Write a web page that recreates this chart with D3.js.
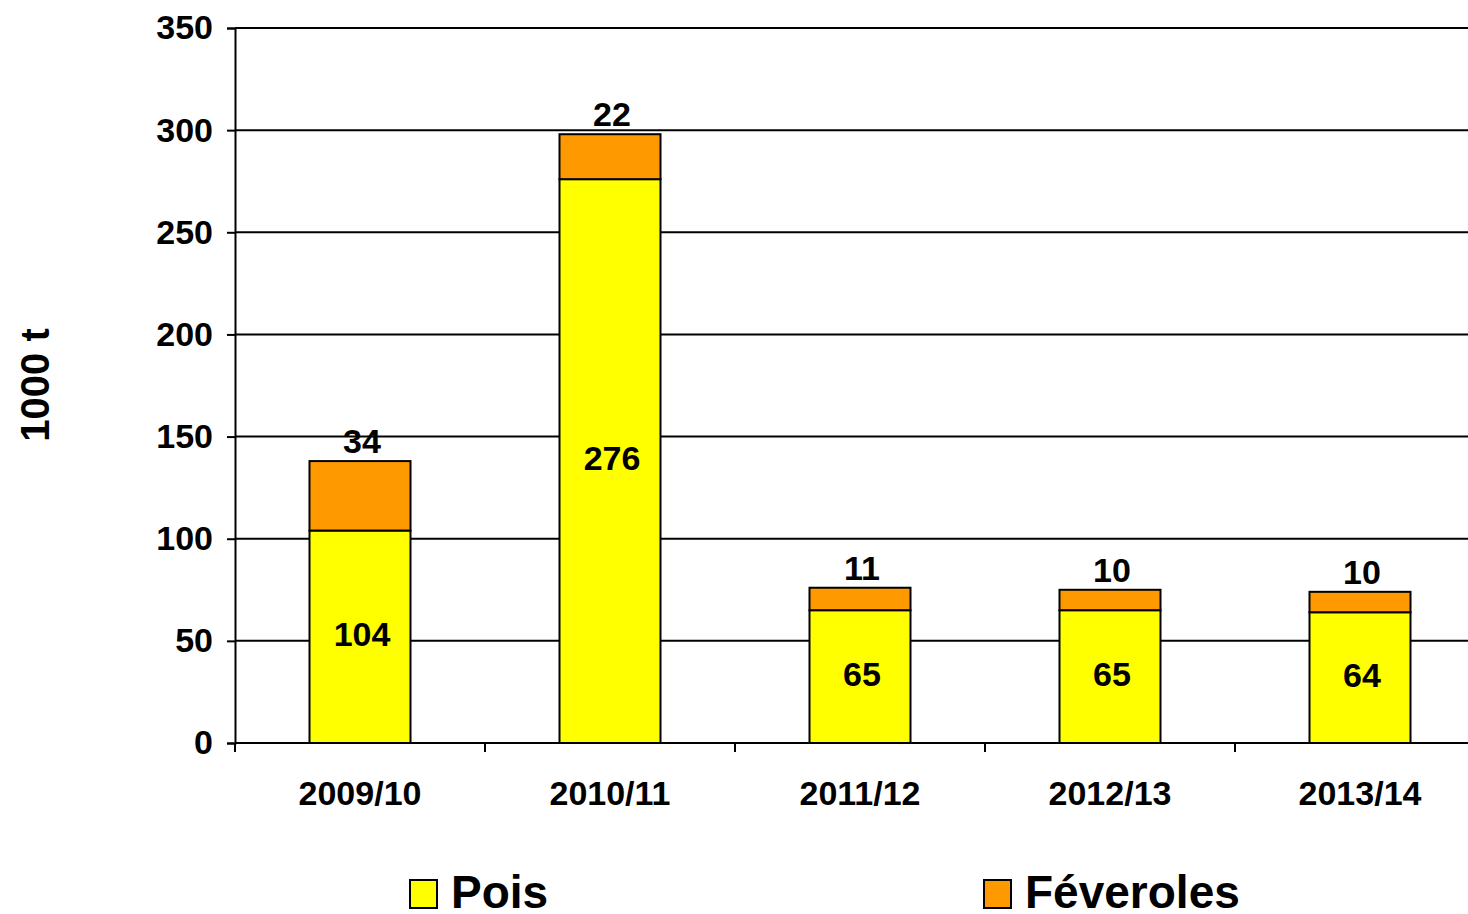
<!DOCTYPE html>
<html>
<head>
<meta charset="utf-8">
<script src="https://cdn.jsdelivr.net/npm/d3@7"></script>
<style>
  body { margin: 0; background: #fff; }
  svg { display: block; font-family: "Liberation Sans", Arial, sans-serif; font-weight: bold; }
</style>
</head>
<body>
<div id="chart"></div>
<script>
  var
    width = 1468,
    height = 914;

  // data (1000 t)
  var seasons = ['2009/10', '2010/11', '2011/12', '2012/13', '2013/14'],
    pois = [104, 276, 65, 65, 64],
    feveroles = [34, 22, 11, 10, 10],
    yTicks = [0, 50, 100, 150, 200, 250, 300, 350],
    seriesNames = ['Pois', 'Féveroles'],
    seriesColors = ['#ffff00', '#ff9900'];

  var rows = seasons.map(function(s, i) {
    return { season: s, pois: pois[i], feveroles: feveroles[i] };
  });

  var svg = d3.select('#chart').append('svg')
    .attr('width', width)
    .attr('height', height);

  // plot area runs past the right edge, like the original
  var x = d3.scaleBand()
    .domain(seasons)
    .range([235, 1485])
    .paddingInner(0.596)
    .paddingOuter(0.298);

  var y = d3.scaleLinear()
    .domain([0, 350])
    .range([743, 28]);

  // gridlines
  svg.append('g')
    .selectAll('line')
    .data(yTicks.slice(1))
    .enter().append('line')
    .attr('x1', 235).attr('x2', width)
    .attr('y1', function(d) { return y(d); })
    .attr('y2', function(d) { return y(d); })
    .attr('stroke', '#000')
    .attr('stroke-width', 2);

  // y axis
  var yAxis = svg.append('g')
    .attr('transform', 'translate(235,0)')
    .call(d3.axisLeft(y).tickValues(yTicks).tickSize(8).tickPadding(14));
  yAxis.select('.domain').attr('stroke-width', 2);
  yAxis.selectAll('.tick line').attr('stroke-width', 2);
  yAxis.selectAll('.tick text')
    .attr('font-size', 34)
    .attr('font-family', '"Liberation Sans", Arial, sans-serif')
    .attr('font-weight', 'bold')
    .attr('fill', '#000');

  // stacked bars
  var bw = x.bandwidth();
  var g = svg.append('g');

  g.selectAll('rect.pois')
    .data(rows)
    .enter().append('rect')
    .attr('class', 'pois')
    .attr('x', function(d) { return x(d.season); })
    .attr('y', function(d) { return y(d.pois); })
    .attr('width', bw)
    .attr('height', function(d) { return y(0) - y(d.pois); })
    .attr('fill', seriesColors[0])
    .attr('stroke', '#000')
    .attr('stroke-width', 2);

  g.selectAll('rect.fev')
    .data(rows)
    .enter().append('rect')
    .attr('class', 'fev')
    .attr('x', function(d) { return x(d.season); })
    .attr('y', function(d) { return y(d.pois + d.feveroles); })
    .attr('width', bw)
    .attr('height', function(d) { return y(d.pois) - y(d.pois + d.feveroles); })
    .attr('fill', seriesColors[1])
    .attr('stroke', '#000')
    .attr('stroke-width', 2);

  // x axis (drawn after bars)
  var xAxis = svg.append('g').attr('transform', 'translate(0,743)');
  xAxis.append('line')
    .attr('x1', 235).attr('x2', width)
    .attr('y1', 0).attr('y2', 0)
    .attr('stroke', '#000').attr('stroke-width', 2);
  xAxis.selectAll('line.tk')
    .data(seasons)
    .enter().append('line')
    .attr('class', 'tk')
    .attr('x1', function(d) { return x(d) - x.step() * x.paddingOuter(); })
    .attr('x2', function(d) { return x(d) - x.step() * x.paddingOuter(); })
    .attr('y1', 0).attr('y2', 9)
    .attr('stroke', '#000').attr('stroke-width', 2);
  xAxis.selectAll('text')
    .data(seasons)
    .enter().append('text')
    .attr('x', function(d) { return x(d) + bw / 2; })
    .attr('y', 62)
    .attr('text-anchor', 'middle')
    .attr('font-size', 34)
    .text(function(d) { return d; });

  // value labels
  g.selectAll('text.pl')
    .data(rows)
    .enter().append('text')
    .attr('class', 'pl')
    .attr('x', function(d) { return x(d.season) + bw / 2 + 2; })
    .attr('y', function(d) { return (y(0) + y(d.pois)) / 2; })
    .attr('dominant-baseline', 'middle')
    .attr('text-anchor', 'middle')
    .attr('font-size', 34)
    .text(function(d) { return d.pois; });

  g.selectAll('text.fl')
    .data(rows)
    .enter().append('text')
    .attr('class', 'fl')
    .attr('x', function(d) { return x(d.season) + bw / 2 + 2; })
    .attr('y', function(d) { return y(d.pois + d.feveroles) - 8; })
    .attr('text-anchor', 'middle')
    .attr('font-size', 34)
    .text(function(d) { return d.feveroles; });

  // y title
  svg.append('text')
    .attr('transform', 'translate(49,385) rotate(-90)')
    .attr('text-anchor', 'middle')
    .attr('font-size', 40)
    .text('1000 t');

  // legend
  var legendX = [410, 984];
  var lg = svg.append('g').selectAll('g')
    .data(seriesNames)
    .enter().append('g')
    .attr('transform', function(d, i) { return 'translate(' + legendX[i] + ',880)'; });
  lg.append('rect')
    .attr('width', 27).attr('height', 28)
    .attr('fill', function(d, i) { return seriesColors[i]; })
    .attr('stroke', '#000').attr('stroke-width', 2);
  lg.append('text')
    .attr('x', 41).attr('y', 28)
    .attr('font-size', 46)
    .text(function(d) { return d; });
</script>
</body>
</html>
